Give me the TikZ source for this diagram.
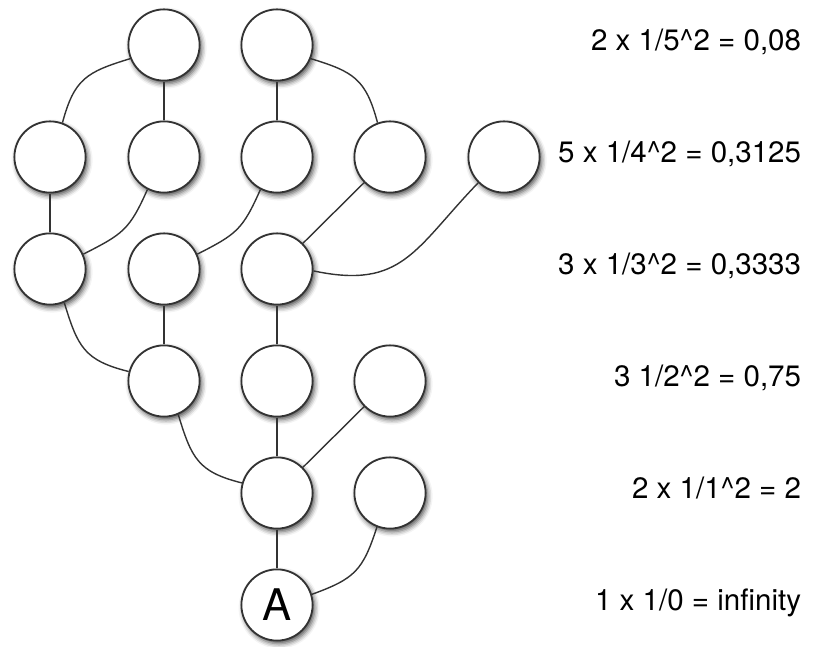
\documentclass[tikz,border=0pt]{standalone}
\usepackage{fontspec}
\setmainfont{TeX Gyre Heros}
\usetikzlibrary{shadows.blur}

\begin{document}
\begin{tikzpicture}[
		knot/.style={circle, draw=black!80, line width=1.3pt, fill=white, minimum size=1.78cm, inner sep=0pt,
			blur shadow={shadow xshift=1.5pt, shadow yshift=-2.2pt, shadow blur radius=3.5pt, shadow opacity=70}},
		link/.style={draw=black!80, line width=1pt},
		curvelink/.style={link, looseness=1.25},
		sum/.style={anchor=mid east, font=\fontsize{21}{25}\selectfont}
	]
		
		\useasboundingbox (0,0) rectangle (20.35,16.175);
		
		% rows from the bottom
		\node[knot, font=\fontsize{31}{36}\selectfont] (a) at (6.925,1.05) {A};
		
		\node[knot] (b1) at (6.925,3.85) {};
		\node[knot] (b2) at (9.75,3.85) {};
		
		\node[knot] (c1) at (4.1,6.65) {};
		\node[knot] (c2) at (6.925,6.65) {};
		\node[knot] (c3) at (9.75,6.65) {};
		
		\node[knot] (d1) at (1.25,9.45) {};
		\node[knot] (d2) at (4.1,9.45) {};
		\node[knot] (d3) at (6.925,9.45) {};
		
		\node[knot] (e1) at (1.25,12.25) {};
		\node[knot] (e2) at (4.1,12.25) {};
		\node[knot] (e3) at (6.925,12.25) {};
		\node[knot] (e4) at (9.75,12.25) {};
		\node[knot] (e5) at (12.6,12.25) {};
		
		\node[knot] (f1) at (4.1,15.05) {};
		\node[knot] (f2) at (6.925,15.05) {};
		
		% links
		\draw[link] (f1) -- (e2);
		\draw[curvelink] (f1.202) to[out=197, in=75] (e1.70);
		\draw[link] (f2) -- (e3);
		\draw[curvelink] (f2.-22) to[out=-17, in=105] (e4.110);
		
		\draw[link] (e1) -- (d1);
		\draw[curvelink] (e2.243) to[out=246, in=27] (d1.24);
		\draw[curvelink] (e3.243) to[out=246, in=27] (d2.24);
		\draw[link] (e4) -- (d3);
		\draw[curvelink] (e5.225) to[out=226, in=-12] (d3.-3);
		
		\draw[curvelink] (d1.-67) to[out=-73, in=166] (c1.165);
		\draw[link] (d2) -- (c1);
		\draw[link] (d3) -- (c2);
		
		\draw[curvelink] (c1.-67) to[out=-73, in=166] (b1.164);
		\draw[link] (c2) -- (b1);
		\draw[link] (c3) -- (b1);
		
		\draw[link] (b1) -- (a);
		\draw[curvelink] (b2.249) to[out=252, in=20] (a.17);
		
		% sums per row
		\node[sum] (s5) at (20.15,15.0) {2 x 1/5\^{}2 = 0,08};
		\node[sum] (s4) at (20.15,12.2) {5 x 1/4\^{}2 = 0,3125};
		\node[sum] (s3) at (20.15,9.4) {3 x 1/3\^{}2 = 0,3333};
		\node[sum] (s2) at (20.15,6.6) {3 1/2\^{}2 = 0,75};
		\node[sum] (s1) at (20.15,3.8) {2 x 1/1\^{}2 = 2};
		\node[sum] (s0) at (20.15,1.0) {1 x 1/0 = infinity};
		
	\end{tikzpicture}
\end{document}
